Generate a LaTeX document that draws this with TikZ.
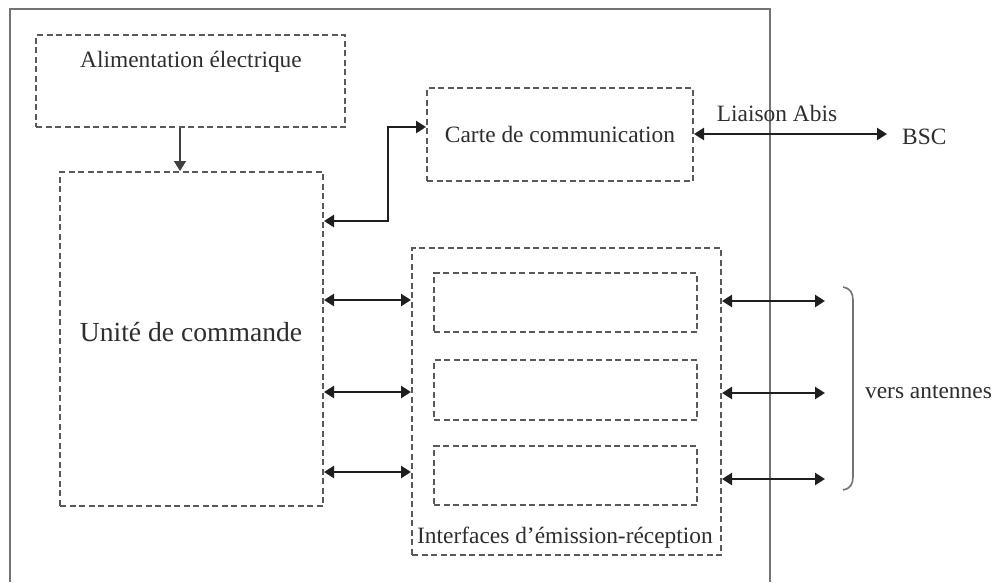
\documentclass[tikz,border=0pt]{standalone}
\usepackage{fontspec}
\setmainfont{Liberation Serif}
\usetikzlibrary{arrows.meta}
\begin{document}
\begin{tikzpicture}[x=1pt,y=-1pt,
  dbox/.style={draw=black!65, line width=2pt, dash pattern=on 6pt off 3.5pt, inner sep=0pt, rectangle},
  framestyle/.style={draw=black!55, line width=1.6pt},
  arr/.style={draw=black!88, line width=2.4pt, {Triangle[length=10pt,width=12pt]}-{Triangle[length=10pt,width=12pt]}},
  onearr/.style={draw=black!75, line width=2pt, -{Triangle[length=10pt,width=12pt]}},
  txt/.style={font=\fontsize{23.4}{28}\selectfont, text=black!82, inner sep=0pt},
  bigtxt/.style={font=\fontsize{27.6}{32}\selectfont, text=black!82, inner sep=0pt}]
\useasboundingbox (0,0) rectangle (996,582);
\fill[white] (0,0) rectangle (996,582);

% outer frame
\draw[framestyle] (10,582) -- (10,9) -- (770,9) -- (770,582);

% boxes
\node[dbox, minimum width=309pt, minimum height=92pt] (alim) at (190.5,81) {};
\node[txt] (alimtxt) at (191,62) {Alimentation électrique};

\node[dbox, minimum width=263pt, minimum height=334pt] (unite) at (191.5,339) {};
\node[bigtxt] (unitetxt) at (191,332) {Unité de commande};

\node[dbox, minimum width=266pt, minimum height=93pt, txt] (carte) at (560,134.5) {Carte de communication};

\node[dbox, minimum width=309pt, minimum height=307pt] (iface) at (566.5,401.5) {};
\node[dbox, minimum width=263pt, minimum height=59pt] (ib1) at (565.5,302.5) {};
\node[dbox, minimum width=263pt, minimum height=60pt] (ib2) at (565.5,390) {};
\node[dbox, minimum width=263pt, minimum height=59pt] (ib3) at (565.5,475.5) {};
\node[txt] (ifacetxt) at (565,538) {Interfaces d'émission-réception};

\node[txt, anchor=west] (bsc) at (902,137) {BSC};
\node[txt] (abis) at (777,113) {Liaison Abis};
\node[txt] (ant) at (928.5,392) {vers antennes};

% coordinates
\coordinate (a1) at (180,0);
\coordinate (uc1) at (388,221);
\coordinate (uc2) at (388,127);
\coordinate (tipb) at (887,134);
\coordinate (l1) at (0,300);
\coordinate (l2) at (0,392);
\coordinate (l3) at (0,472);
\coordinate (r1) at (825,301);
\coordinate (r2) at (825,393);
\coordinate (r3) at (825,479);

% connectors
\draw[onearr] (alim.south -| a1) -- (unite.north -| a1);
\draw[arr] (unite.east |- uc1) -- (uc1) -- (uc2) -- (carte.west |- uc2);
\draw[arr] (carte.east |- tipb) -- (tipb);

\draw[arr] (unite.east |- l1) -- (iface.west |- l1);
\draw[arr] (unite.east |- l2) -- (iface.west |- l2);
\draw[arr] (unite.east |- l3) -- (iface.west |- l3);

\draw[arr] (iface.east |- r1) -- (r1);
\draw[arr] (iface.east |- r2) -- (r2);
\draw[arr] (iface.east |- r3) -- (r3);

% brace
\draw[draw=black!55, line width=1.6pt] (843,287) .. controls (850,288) and (853,293) .. (853,300) -- (853,477) .. controls (853,484) and (850,489) .. (843,490);
\end{tikzpicture}
\end{document}
